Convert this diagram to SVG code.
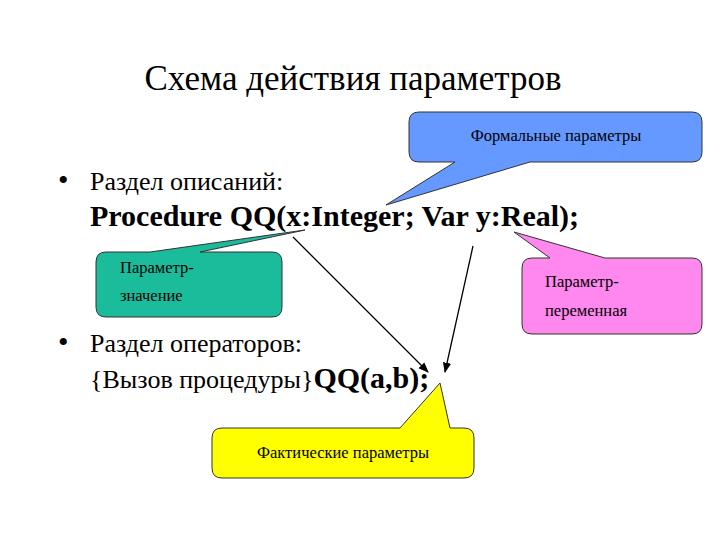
<svg xmlns="http://www.w3.org/2000/svg" width="720" height="540" viewBox="0 0 720 540" font-family="'Liberation Serif', 'DejaVu Serif', serif">
<style>
text{font-family:'Liberation Serif','DejaVu Serif',serif;fill:#000}
.big{font-size:30px}.cy{font-size:26px}.b{font-weight:bold}.c{font-size:16.5px}
.co{stroke:#333;stroke-width:1}
</style>
<defs><marker id="ah" viewBox="0 0 10 10" refX="9" refY="5" markerWidth="8" markerHeight="8" orient="auto"><path d="M0,1 L10,5 L0,9 z" fill="#000"/></marker></defs>
<rect width="720" height="540" fill="#fff"/>
<text x="353" y="90" font-size="35" text-anchor="middle">Схема действия параметров</text>
<text x="58" y="190" class="big">•</text>
<text x="90" y="190" class="cy">Раздел описаний:</text>
<text x="90" y="226" class="big b">Procedure QQ(x:Integer; Var y:Real);</text>
<text x="58" y="352" class="big">•</text>
<text x="90" y="352" class="cy">Раздел операторов:</text>
<text x="90" y="388" class="cy">{Вызов процедуры}<tspan class="big b">QQ(a,b);</tspan></text>
<g id="formal">
<path class="co" fill="#6699ff" d="M419,112 H692 Q702,112 702,122 V152 Q702,162 692,162 H530 L386,205 L455,162 H419 Q409,162 409,152 V122 Q409,112 419,112 Z"/>
<text x="556" y="141" class="c" text-anchor="middle">Формальные параметры</text>
</g>
<g id="value">
<path class="co" fill="#1abc9c" d="M106,252 H150 L305,230 L200,252 H272 Q282,252 282,262 V307 Q282,317 272,317 H106 Q96,317 96,307 V262 Q96,252 106,252 Z"/>
<text x="120" y="273" class="c">Параметр-</text>
<text x="120" y="301" class="c">значение</text>
</g>
<g id="var">
<path class="co" fill="#ff88ee" d="M532,258 H550 L514,232 L605,258 H692 Q702,258 702,268 V324 Q702,334 692,334 H532 Q522,334 522,324 V268 Q522,258 532,258 Z"/>
<text x="545" y="287" class="c">Параметр-</text>
<text x="545" y="316" class="c">переменная</text>
</g>
<g id="actual">
<path class="co" fill="#ffff00" d="M222,428 H400 L440,383 L450,428 H464 Q474,428 474,438 V468 Q474,478 464,478 H222 Q212,478 212,468 V438 Q212,428 222,428 Z"/>
<text x="343" y="458" class="c" text-anchor="middle">Фактические параметры</text>
</g>
<g id="connectors" stroke="#000" stroke-width="1.3" fill="none">
<line x1="293" y1="237" x2="428" y2="372" marker-end="url(#ah)"/>
<line x1="473" y1="246" x2="445" y2="372" marker-end="url(#ah)"/>
</g>
</svg>
